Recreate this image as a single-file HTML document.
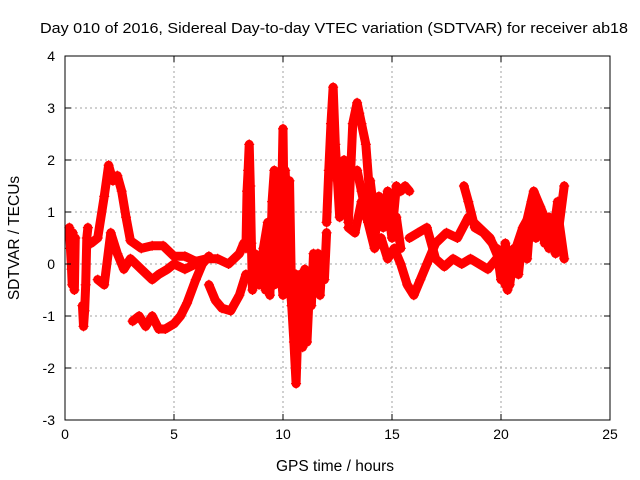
<!DOCTYPE html>
<html><head><meta charset="utf-8"><style>
body{margin:0;background:#fff;}
svg{display:block;font-family:"Liberation Sans",sans-serif;}
</style></head><body>
<svg id="chart" width="640" height="480">
<text x="334" y="33" font-size="15" textLength="588" lengthAdjust="spacingAndGlyphs" text-anchor="middle">Day 010 of 2016, Sidereal Day-to-day VTEC variation (SDTVAR) for receiver ab18</text>
<text x="335" y="471" font-size="15.5" text-anchor="middle">GPS time / hours</text>
<text transform="translate(19,238) rotate(-90)" font-size="15.5" text-anchor="middle">SDTVAR / TECUs</text>
<g id="grid"></g><g id="marks"></g><g id="axes"></g>
</svg>
<script>
const xTicks=[0,5,10,15,20,25];
const yTicks=[-3,-2,-1,0,1,2,3,4];
const tA=[0.2,0.25,0.3,0.33,0.36,0.4,0.43,0.47];
const vA=[0.7,0.3,-0.1,-0.4,0.6,0.2,-0.5,0.5];
const tB=[0.8,0.85,0.9,0.95,1.0,1.05];
const vB=[-0.8,-1.2,-0.9,-0.4,0.5,0.7];
const tC=[1.2,1.5,1.8,2.0,2.2,2.4,2.6,2.8,3.0,3.5,4.0,4.5,5.0,5.5,6.0,6.5,7.0,7.5,8.0,8.2];
const vC=[0.4,0.5,1.3,1.9,1.6,1.7,1.4,0.9,0.45,0.3,0.35,0.35,0.15,0.15,0.05,0.1,0.1,0.0,0.2,0.4];
const tD=[1.5,1.8,2.1,2.4,2.7,3.0,3.5,4.0,4.3,4.7,5.0,5.5,6.0,6.5];
const vD=[-0.3,-0.4,0.6,0.2,-0.1,0.1,-0.1,-0.3,-0.2,-0.1,0.0,-0.1,0.0,0.1];
const tE=[3.1,3.4,3.7,4.0,4.3,4.6,5.0,5.3,5.6,6.0,6.3,6.6];
const vE=[-1.1,-1.0,-1.2,-1.0,-1.25,-1.25,-1.15,-1.0,-0.75,-0.3,0.0,0.15];
const tF=[6.6,6.9,7.2,7.6,8.0,8.3];
const vF=[-0.4,-0.7,-0.85,-0.9,-0.6,-0.2];
const tG=[8.3,8.35,8.4,8.45,8.5,8.55,8.6,8.7,8.9,9.1,9.3,9.4,9.5,9.6,9.7,9.8,9.9,10.0,10.05,10.1,10.2,10.3];
const vG=[0.3,1.4,1.8,2.3,1.5,0.4,-0.5,0.2,-0.4,0.3,0.8,-0.6,1.2,1.8,0.6,-0.3,0.4,2.6,1.0,1.8,0.5,-0.2];
const tM=[8.6,8.8,9.0,9.2,9.4,9.6,9.8,10.0,10.2,10.4,10.6,10.8,11.0,11.2,11.4,11.6,11.8];
const vM=[0.0,-0.3,0.1,-0.5,0.0,-0.4,0.3,-0.6,0.2,-0.8,-0.2,-0.9,-0.1,-0.7,-0.3,0.2,-0.2];
const tH=[10.3,10.4,10.5,10.6,10.7,10.8,10.9,11.0,11.1,11.2,11.3,11.4,11.5,11.6,11.7,11.8,11.9,12.0];
const vH=[1.6,-0.8,-1.5,-2.3,-1.0,-0.2,-1.6,-1.0,-1.5,-0.6,-0.8,0.2,-0.5,0.0,-0.6,0.1,-0.3,0.6];
const tI=[12.0,12.1,12.2,12.3,12.4,12.5,12.6,12.8,13.0,13.2,13.4,13.5,13.6,13.8,14.0,14.2,14.4,14.6,14.8,15.0,15.2,15.4,15.6,15.8];
const vI=[0.8,1.8,2.7,3.4,2.3,1.6,0.9,2.0,0.8,2.7,3.1,2.9,2.7,2.3,1.2,0.5,1.0,0.7,1.4,0.6,1.5,1.4,1.5,1.4];
const tN=[13.4,13.6,13.8,14.0,14.2,14.4,14.6,14.8,15.0,15.2,15.4];
const vN=[1.8,1.4,1.0,1.6,0.9,1.3,0.8,1.1,0.5,0.9,0.3];
const tJ=[13.0,13.3,13.6,13.9,14.2,14.5,14.8,15.1,15.4,15.7,16.0,16.3,16.6,17.0,17.5,18.0,18.5,19.0,19.5,20.0,20.3,20.6,21.0,21.5,22.0,22.5,22.9];
const vJ=[0.7,0.6,1.2,0.8,0.3,0.5,0.1,0.3,0.0,-0.4,-0.6,-0.3,0.0,0.4,0.6,0.5,0.9,0.7,0.5,0.0,-0.5,0.0,0.5,1.4,0.9,0.2,1.5];
const tK=[15.8,16.2,16.6,17.0,17.4,17.8,18.2,18.6,19.0,19.4,19.8,20.2,20.6,21.0,21.4,21.8,22.2,22.6,22.9];
const vK=[0.5,0.6,0.7,0.1,-0.05,0.1,0.0,0.1,0.0,-0.1,0.1,-0.4,0.2,0.7,1.0,0.8,0.3,1.0,0.1];
const tL=[18.3,18.5,18.8,19.2,19.6,20.0];
const vL=[1.5,1.2,0.7,0.6,0.4,0.1];
const tO=[19.8,20.0,20.2,20.4,20.6,20.8,21.0,21.2,21.4,21.6,21.8,22.0,22.2,22.4,22.6];
const vO=[0.3,-0.3,0.4,-0.4,0.3,-0.2,0.6,0.1,1.2,0.5,1.1,0.4,0.9,0.6,1.2];
const series=[[tA,vA],[tB,vB],[tC,vC],[tD,vD],[tE,vE],[tF,vF],[tG,vG],[tM,vM],[tH,vH],[tI,vI],[tN,vN],[tJ,vJ],[tK,vK],[tL,vL],[tO,vO]];
const L=65,R=610,T=56,B=420,X0=0,X1=25,Y0=-3,Y1=4;
function xs(t){return L+(t-X0)/(X1-X0)*(R-L);}
function ys(v){return B-(v-Y0)/(Y1-Y0)*(B-T);}
const NS="http://www.w3.org/2000/svg";
const grid=document.getElementById('grid'),axes=document.getElementById('axes'),marks=document.getElementById('marks');
function mk(tag,attrs,parent){const e=document.createElementNS(NS,tag);for(const k in attrs)e.setAttribute(k,attrs[k]);parent.appendChild(e);return e;}
xTicks.forEach(t=>{const x=xs(t);
 if(t>X0&&t<X1){const g=mk('line',{x1:x,y1:T,x2:x,y2:B,stroke:'#a0a0a0','stroke-dasharray':'2,3'},grid);
 
 }
 mk('line',{x1:x,y1:B,x2:x,y2:B-6,stroke:'#000'},axes);mk('line',{x1:x,y1:T,x2:x,y2:T+6,stroke:'#000'},axes);
 const lb=mk('text',{x:x,y:B+19,'font-size':14,'text-anchor':'middle'},axes);lb.textContent=t;
 
 });
yTicks.forEach(v=>{const y=ys(v);
 if(v>Y0&&v<Y1){const g=mk('line',{x1:L,y1:y,x2:R,y2:y,stroke:'#a0a0a0','stroke-dasharray':'2,3'},grid);
 
 }
 mk('line',{x1:L,y1:y,x2:L+6,y2:y,stroke:'#000'},axes);mk('line',{x1:R,y1:y,x2:R-6,y2:y,stroke:'#000'},axes);
 const lb=mk('text',{x:L-10,y:y+5,'font-size':14,'text-anchor':'end'},axes);lb.textContent=v;
 
 });
const fr=mk('rect',{x:L,y:T,width:R-L,height:B-T,fill:'none',stroke:'#000'},axes);


series.forEach((s,i)=>{const [ts,vs]=s;
 const pts=ts.map((t,j)=>xs(t)+','+ys(vs[j])).join(' ');
 const pl=mk('polyline',{points:pts,fill:'none',stroke:'#ff0000','stroke-width':9,'stroke-linejoin':'round','stroke-linecap':'round'},marks);
 
 
 ts.forEach((t,j)=>{const x=xs(t),y=ys(vs[j]);
  const p=mk('path',{d:`M${x-5},${y}h10M${x},${y-5}v10`,stroke:'#ff0000','stroke-width':1.2},marks);
  
  });});
</script>
</body></html>
